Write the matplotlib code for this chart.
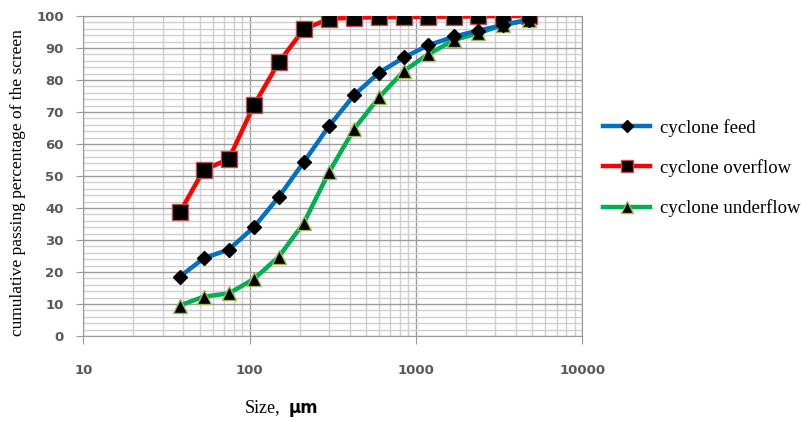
import matplotlib.pyplot as plt
from matplotlib.ticker import FixedLocator, NullFormatter

# sieve sizes, um
size = [38, 53, 75, 106, 150, 212, 300, 425, 600, 850, 1180, 1700, 2360, 3350, 4750]

feed = [18.5, 24.3, 27.0, 34.0, 43.5, 54.4, 65.6, 75.3, 82.3, 87.1, 90.8, 93.6, 95.4, 97.2, 98.8]
overflow = [38.6, 51.9, 55.3, 72.1, 85.6, 95.9, 99.1, 99.5, 99.6, 99.7, 99.8, 99.8, 99.9, 100.0, 100.0]
underflow = [9.5, 12.3, 13.3, 17.8, 24.8, 35.4, 51.2, 64.7, 74.6, 82.9, 88.0, 92.5, 94.6, 97.2, 98.8]

labels = ['cyclone feed', 'cyclone overflow', 'cyclone underflow']
xticks = [10, 100, 1000, 10000]
xticklabels = ['10', '100', '1000', '10000']

fig = plt.figure(figsize=(8.01, 4.21), dpi=100)
ax = fig.add_axes([0.104, 0.202, 0.623, 0.760])

ax.plot(size, feed, color='#0070C0', lw=3.2, marker='D', ms=7.5,
        mfc='black', mec='black', label=labels[0], zorder=4)
ax.plot(size, overflow, color='#FF0000', lw=3.2, marker='s', ms=11,
        mfc='black', mec='#C0504D', mew=1, label=labels[1], zorder=3)
ax.plot(size, underflow, color='#00B050', lw=3.2, marker='^', ms=10,
        mfc='black', mec='#9BBB59', mew=1, label=labels[2], zorder=3)

ax.set_xscale('log')
ax.set_xlim(10, 10000)
ax.set_ylim(0, 100)
ax.set_yticks(range(0, 101, 10))
ax.yaxis.set_minor_locator(FixedLocator(range(0, 101, 2)))
ax.xaxis.set_major_locator(FixedLocator(xticks))
minor_x = [m * 10 ** e for e in range(1, 4) for m in range(2, 10)]
ax.xaxis.set_minor_locator(FixedLocator(minor_x))
ax.xaxis.set_minor_formatter(NullFormatter())
ax.set_xticklabels(xticklabels)

ax.grid(which='major', color='#9a9a9a', lw=1.0)
ax.grid(which='minor', color='#cfcfcf', lw=1.0)
ax.set_axisbelow(True)
for s in ax.spines.values():
    s.set_color('#9a9a9a')

ax.tick_params(axis='x', which='major', length=6, color='#9a9a9a', pad=14)
ax.tick_params(axis='y', which='major', length=5, color='#9a9a9a', pad=9)
ax.tick_params(which='minor', length=0)
for lab in ax.get_xticklabels() + ax.get_yticklabels():
    lab.set_fontweight('bold')
    lab.set_color('#595959')
    lab.set_fontsize(9.5)

ax.set_ylabel('cumulative passing percentage of the screen',
              fontfamily='Liberation Serif', fontsize=12.5)
ax.yaxis.set_label_coords(-0.115, 0.48)

fig.text(0.305, 0.02, 'Size,', fontfamily='Liberation Serif', fontsize=13)
fig.text(0.36, 0.02, 'µm', fontfamily='DejaVu Sans', fontweight='bold', fontsize=12)

leg = ax.legend(loc='center left', bbox_to_anchor=(1.008, 0.525), frameon=False,
                prop={'family': 'Liberation Serif', 'size': 13.5},
                handlelength=2.5, labelspacing=1.2, handletextpad=0.55,
                markerscale=0.8)

fig.savefig('out.png', dpi=100)
